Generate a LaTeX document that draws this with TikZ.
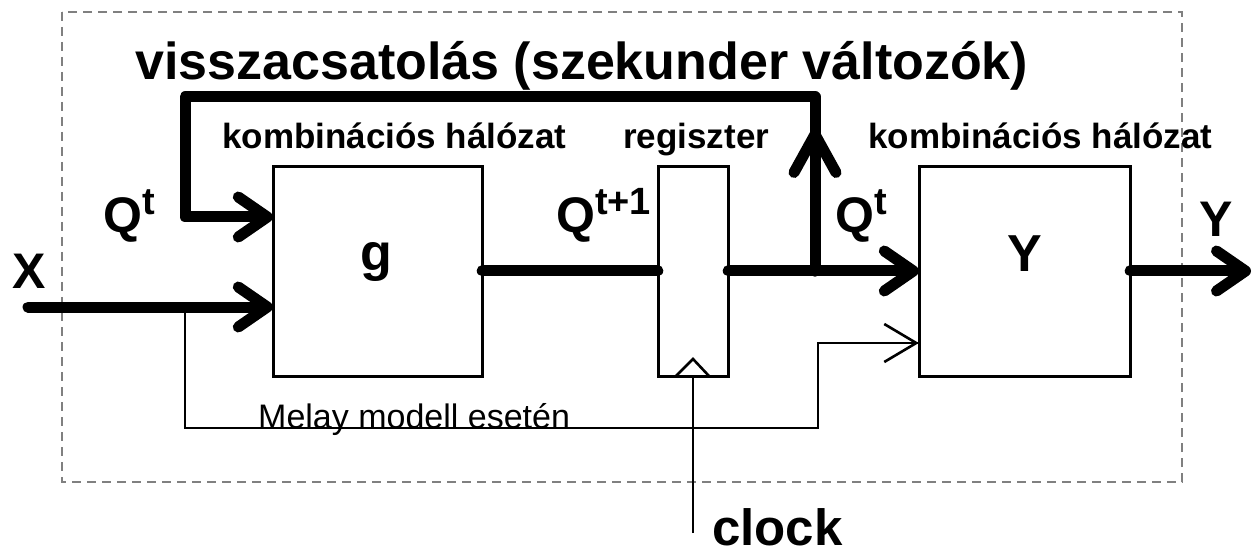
\documentclass[tikz,border=0pt]{standalone}
\usepackage{fontspec}
\setmainfont{Liberation Sans}
\usetikzlibrary{arrows.meta}
\newcommand{\fsz}[1]{\fontsize{#1}{#1}\selectfont}
\tikzset{
  blk/.style={draw, line width=3pt, fill=white, inner sep=0},
  thick line/.style={line width=11pt, line cap=round, line join=round},
  thin line/.style={line width=2.6pt},
  bigtip/.style={-{Straight Barb[length=29pt,width=40pt,round]}},
  smalltip/.style={-{Straight Barb[length=32pt,width=38pt]}},
  lbl/.style={anchor=base west, inner sep=0, font=\bfseries\fsz{35}},
  big/.style={anchor=base west, inner sep=0, font=\bfseries\fsz{50}},
}
\newcommand{\Qsup}[1]{Q\raisebox{18pt}{\fsz{38}#1}}
\begin{document}
\begin{tikzpicture}[x=1pt,y=-1pt]
\useasboundingbox (0,0) rectangle (1259,556);
% frame
\draw[gray, line width=1.5pt, dash pattern=on 9pt off 6pt] (62,12) rectangle (1182,482);
% blocks
\draw[blk] (273,167) rectangle (482,376);
\node[inner sep=0, minimum width=209pt, minimum height=209pt] (g) at (377.5,271.5) {};
\draw[blk] (658,167) rectangle (728,376);
\node[inner sep=0, minimum width=70pt, minimum height=209pt] (reg) at (693,271.5) {};
\draw[blk] (919,167) rectangle (1130,376);
\node[inner sep=0, minimum width=211pt, minimum height=209pt] (ybox) at (1024.5,271.5) {};
% clock triangle
\draw[line width=2.6pt, line join=miter] (676,376) -- (693,359) -- (709,376);
% coordinates
\coordinate (xin) at (28,307);
\coordinate (yout) at (1251,271);
\coordinate (jq) at (815,271);
\coordinate (fbtop) at (815,97);
\coordinate (fbleft) at (185,97);
\coordinate (fbdown) at (185,217);
\coordinate (upmid) at (815,129);
\coordinate (mx) at (185,307);
\coordinate (mb1) at (185,428);
\coordinate (mb2) at (818,428);
\coordinate (mb3) at (818,343);
\coordinate (clk) at (693,533);
% thin connectors
\draw[thin line] (mx) -- (mb1) -- (mb2) -- (mb3) -- (mb3 -| ybox.west);
\draw[thin line, smalltip] (mb3) -- (mb3 -| ybox.west);
\draw[thin line] (clk) -- (reg.south);
% thick connectors
\draw[thick line, bigtip] (xin) -- (xin -| g.west);
\draw[thick line] (g.east |- jq) -- (reg.west |- jq);
\draw[thick line, bigtip] (reg.east |- jq) -- (ybox.west |- jq);
\draw[thick line, bigtip] (ybox.east |- yout) -- (yout);
\draw[thick line, bigtip] (jq) -- (fbtop) -- (fbleft) -- (fbdown) -- (fbdown -| g.west);
\draw[thick line, -{Straight Barb[length=38pt,width=42pt,round]}] (jq) -- (upmid);
% labels
\node[anchor=base west, inner sep=0, font=\bfseries\fsz{52}] (title) at (135,80) {visszacsatolás (szekunder változók)};
\node[lbl] (l1) at (222,149) {kombinációs hálózat};
\node[lbl] (l2) at (623,149) {regiszter};
\node[lbl] (l3) at (868,149) {kombinációs hálózat};
\node[big] (q1) at (103,233) {\Qsup{t}};
\node[big] (q2) at (556,233) {\Qsup{t+1}};
\node[big] (q3) at (835,233) {\Qsup{t}};
\node[big] (xl) at (12,288) {X};
\node[big] (yl) at (1199,237) {Y};
\node[anchor=base, inner sep=0, font=\bfseries\fsz{52}] (gl) at (376,271) {g};
\node[anchor=base, inner sep=0, font=\bfseries\fsz{52}] (yl2) at (1025,272) {Y};
\node[anchor=base west, inner sep=0, font=\fsz{34}] (ml) at (258,428) {Melay modell esetén};
\node[anchor=base west, inner sep=0, font=\bfseries\fsz{51}] (cl) at (712,545) {clock};
\end{tikzpicture}
\end{document}
